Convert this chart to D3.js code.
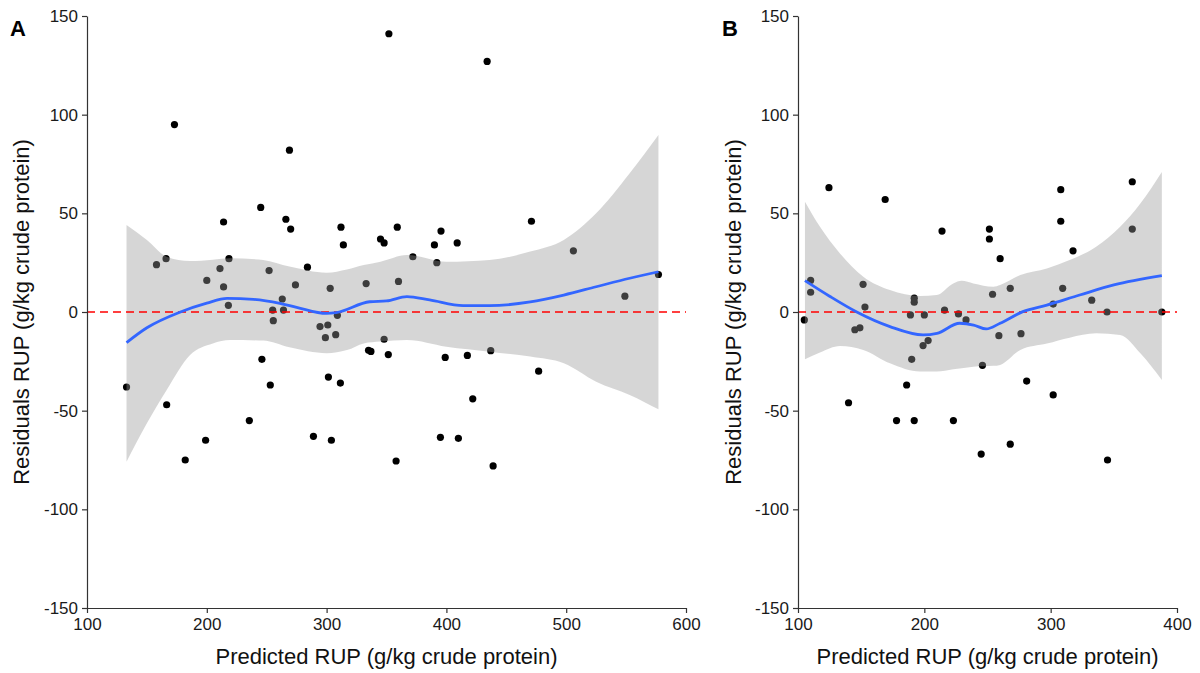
<!DOCTYPE html>
<html>
<head>
<meta charset="utf-8">
<script src="https://cdn.jsdelivr.net/npm/d3@7"></script>
<style>
  body { margin: 0; background: #fff; }
  text { font-family: "Liberation Sans", Arial, sans-serif; }
</style>
</head>
<body>
<script>
// ---------------- data ----------------
// Panel A: predicted RUP vs residuals
var xA = [133,158,166,166.5,173,182,199,200,211,214,214,218.5,218,235.5,245,246,252,253,255,255.5,
          263,264,266,269,270,274,284,289,294.5,299,301,301.5,303,304,307.6,309,311.5,312,314,333,
          335,337,345,348,348,351.5,352,358,359,360,372,390,392,395,395.5,399,409,410,417.5,422,
          434,437,439,471,477,506,549,577];
var yA = [-38,24,27,-47,95,-75,-65,16,22,45.6,12.7,27,3.4,-55,53,-24,21,-37,1,-4.4,
          6.6,1,47,82,42,13.7,22.7,-63,-7.4,-13,-6.6,-33,12,-65,-11.5,-1.7,-36,43,34,14.4,
          -19.4,-20,37,35,-13.8,-21.6,141,-75.5,43,15.5,28,34,25,-63.5,41,-23,35,-64,-22,-44,
          127,-19.6,-78,46,-30,31,8,19];

// smooth (loess) fit and band, panel A
var fitAx = [133,150,178,200,217,239,261,275,300,308,336,350,367,386,414,436,470,498,525,553,577];
var fitAy = [-15.5,-8,0,4.5,6.9,6.4,4.4,2.4,-0.7,-0.3,5.2,5.6,7.8,6.1,3.2,3.2,5.1,8.6,12.8,17.1,20.4];
var bandAx  = [133,150,166.5,186,205,219.4,247,269,300,317,331,345,367,400,436,470,498,525,553,577];
var bandAhi = [44.1,36.5,28,25.8,26.5,27.2,26.4,23,19.9,21.5,23.8,25.5,28.9,25.5,26.4,30.6,36.5,50,70.3,89.7];
var bandAlo = [-75.9,-56.4,-39.5,-21.8,-15.9,-14.2,-14.5,-17.9,-20.9,-19.3,-15.9,-15,-14.2,-17.6,-20.1,-22.6,-26,-35.3,-42,-49.3];

// Panel B
var xB = [105,110,110,124.5,140,145,149,151.5,153,169,178,186,189,190,192,192,192,199,200,203,
          214,216,223,227,233,245,246,251.5,251.5,254,259,260,268,268,276.5,281,302,302,308,308,
          309.5,317.7,332.5,344.6,345,364.6,364.6,388];
var yB = [-4,16,10,63,-46,-9,-8,14,2.5,57,-55,-37,-1.5,-24,7,5,-55,-17,-1.5,-14.5,
          41,1,-55,-1,-4,-72,-27,42,37,9,-12,27,12,-67,-11,-35,4,-42,62,46,
          12,31,6,0,-75,66,42,0];

var fitBx = [105.5,125,146.5,172.8,199,210,228,239,249,260,278,297,323,350,388];
var fitBy = [15.9,8,0,-7.4,-11.6,-10.8,-5.7,-6.6,-8.6,-5.7,0.2,3.5,8.6,13.7,18.4];
var bandBx  = [105.5,117.4,133.2,151.7,172.8,196.6,209.8,222.9,229.6,238.8,254.6,260,276,297,315,336,355,371,388];
var bandBhi = [55.9,43.2,29.7,17.9,11.1,8.1,8.6,14.5,15.8,14.5,12.8,13.7,18.7,22.1,26.3,33.1,43.2,55,71];
var bandBlo = [-24,-20.5,-17.2,-19.2,-26,-30.2,-30.2,-29,-28.5,-27.7,-27.3,-26.8,-19.2,-16,-13,-10.8,-11.6,-20.9,-34.4];

var yTicks = [-150,-100,-50,0,50,100,150];
var xTicksA = [100,200,300,400,500,600];
var xTicksB = [100,200,300,400];

// ---------------- drawing ----------------
var W = 1200, H = 673;
var FONT = "'Liberation Sans', Arial, sans-serif";
var svg = d3.select("body").append("svg")
  .attr("width", W)
  .attr("height", H);

function panel(opt) {
  var x = d3.scaleLinear().domain(opt.xdom).range([opt.left, opt.right]);
  var y = d3.scaleLinear().domain([-150, 150]).range([608, 16]);
  var g = svg.append("g");

  // points first, ribbon drawn over them like ggplot
  g.selectAll("circle")
    .data(opt.px.map(function(v, i) { return [v, opt.py[i]]; }))
    .enter().append("circle")
    .attr("cx", function(d) { return x(d[0]); })
    .attr("cy", function(d) { return y(d[1]); })
    .attr("r", 3.6)
    .attr("fill", "#000");

  var band = opt.bx.map(function(v, i) { return [v, opt.blo[i], opt.bhi[i]]; });
  g.append("path")
    .datum(band)
    .attr("d", d3.area()
      .x(function(d) { return x(d[0]); })
      .y0(function(d) { return y(d[1]); })
      .y1(function(d) { return y(d[2]); })
      .curve(d3.curveMonotoneX))
    .attr("fill", "#999")
    .attr("fill-opacity", 0.4);

  // zero reference
  g.append("line")
    .attr("x1", opt.left).attr("x2", opt.right)
    .attr("y1", y(0)).attr("y2", y(0))
    .attr("stroke", "#ff0000")
    .attr("stroke-width", 1.7)
    .attr("stroke-dasharray", "8,5");

  g.append("path")
    .datum(opt.fx.map(function(v, i) { return [v, opt.fy[i]]; }))
    .attr("d", d3.line()
      .x(function(d) { return x(d[0]); })
      .y(function(d) { return y(d[1]); })
      .curve(d3.curveMonotoneX))
    .attr("fill", "none")
    .attr("stroke", "#3366ff")
    .attr("stroke-width", 2.8);

  // axes (plain hyphen minus, as in the figure)
  var fmt = function(d) { return String(d); };
  var ax = g.append("g")
    .attr("transform", "translate(0,608)")
    .call(d3.axisBottom(x).tickValues(opt.xticks).tickFormat(fmt)
      .tickSize(5).tickPadding(5).tickSizeOuter(0));
  var ay = g.append("g")
    .attr("transform", "translate(" + opt.left + ",0)")
    .call(d3.axisLeft(y).tickValues(yTicks).tickFormat(fmt)
      .tickSize(5).tickPadding(4).tickSizeOuter(0));
  [ax, ay].forEach(function(a) {
    a.attr("font-size", 17).attr("font-family", FONT);
    a.select(".domain").attr("stroke", "#333").attr("stroke-width", 1.2);
    a.selectAll(".tick line").attr("stroke", "#333").attr("stroke-width", 1.2);
    a.selectAll(".tick text").attr("fill", "#1a1a1a");
  });

  g.append("text")
    .attr("x", (opt.left + opt.right) / 2)
    .attr("y", 664)
    .attr("text-anchor", "middle")
    .attr("fill", "#111")
    .attr("font-size", 22)
    .text("Predicted RUP (g/kg crude protein)");

  g.append("text")
    .attr("transform", "translate(" + opt.ytitleX + ",312) rotate(-90)")
    .attr("text-anchor", "middle")
    .attr("fill", "#111")
    .attr("font-size", 22)
    .text("Residuals RUP (g/kg crude protein)");

  g.append("text")
    .attr("x", opt.tagX)
    .attr("y", 36)
    .attr("fill", "#000")
    .attr("font-size", 22)
    .attr("font-weight", "bold")
    .text(opt.tag);
}

panel({ xdom: [100, 600], left: 87, right: 686, px: xA, py: yA,
        fx: fitAx, fy: fitAy, bx: bandAx, bhi: bandAhi, blo: bandAlo,
        xticks: xTicksA, ytitleX: 29, tagX: 10, tag: "A" });
panel({ xdom: [100, 400], left: 798, right: 1177, px: xB, py: yB,
        fx: fitBx, fy: fitBy, bx: bandBx, bhi: bandBhi, blo: bandBlo,
        xticks: xTicksB, ytitleX: 741, tagX: 722, tag: "B" });
</script>
</body>
</html>
